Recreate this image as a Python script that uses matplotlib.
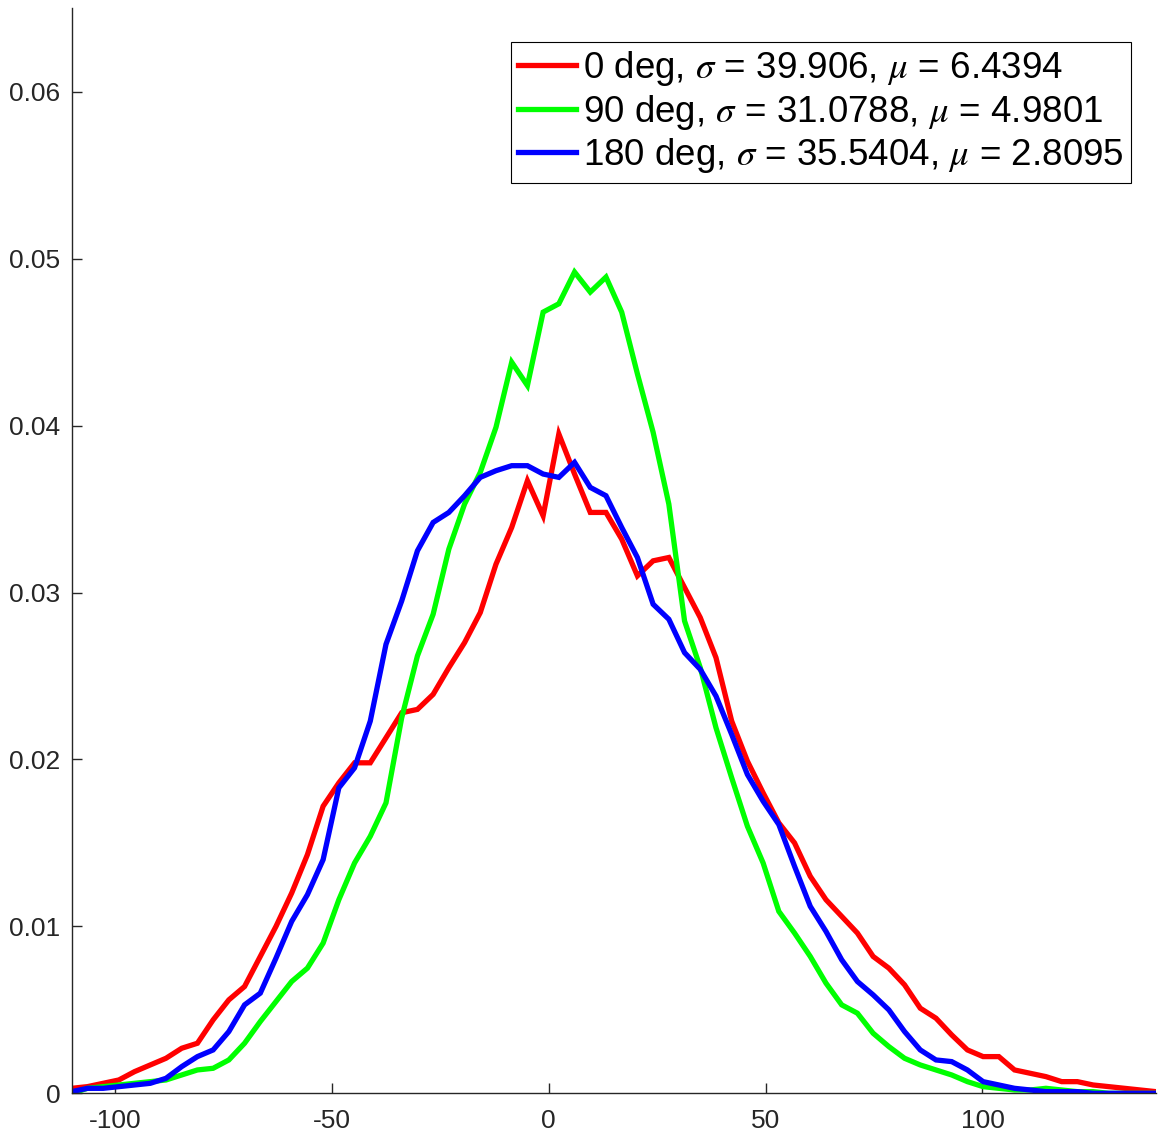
import numpy as np
import matplotlib
matplotlib.use("Agg")
import matplotlib.pyplot as plt

plt.rcParams['font.family'] = ['Liberation Sans', 'DejaVu Sans']
plt.rcParams['mathtext.fontset'] = 'stix'

# bin centres (70 bins spanning -110 .. 140)
x = np.linspace(-110, 140, 70)

deg0 = [0.0003, 0.0004, 0.0006, 0.0008, 0.0013, 0.0017, 0.0021, 0.0027, 0.0030, 0.0044,
        0.0056, 0.0064, 0.0082, 0.0100, 0.0120, 0.0143, 0.0172, 0.0186, 0.0198, 0.0198,
        0.0213, 0.0228, 0.0230, 0.0239, 0.0255, 0.0270, 0.0288, 0.0317, 0.0339, 0.0367,
        0.0346, 0.0395, 0.0371, 0.0348, 0.0348, 0.0332, 0.0310, 0.0319, 0.0321, 0.0303,
        0.0285, 0.0261, 0.0223, 0.0199, 0.0180, 0.0162, 0.0150, 0.0130, 0.0116, 0.0106,
        0.0096, 0.0082, 0.0075, 0.0065, 0.0051, 0.0045, 0.0035, 0.0026, 0.0022, 0.0022,
        0.0014, 0.0012, 0.0010, 0.0007, 0.0007, 0.0005, 0.0004, 0.0003, 0.0002, 0.0001]

deg90 = [0.0000, 0.0003, 0.0004, 0.0005, 0.0006, 0.0007, 0.0008, 0.0011, 0.0014, 0.0015,
         0.0020, 0.0030, 0.0043, 0.0055, 0.0067, 0.0075, 0.0090, 0.0116, 0.0138, 0.0154,
         0.0174, 0.0225, 0.0262, 0.0287, 0.0326, 0.0353, 0.0372, 0.0399, 0.0438, 0.0424,
         0.0468, 0.0473, 0.0492, 0.0480, 0.0489, 0.0468, 0.0431, 0.0396, 0.0353, 0.0283,
         0.0255, 0.0219, 0.0189, 0.0160, 0.0138, 0.0109, 0.0096, 0.0082, 0.0066, 0.0053,
         0.0048, 0.0036, 0.0028, 0.0021, 0.0017, 0.0014, 0.0011, 0.0007, 0.0004, 0.0003,
         0.0002, 0.0002, 0.0003, 0.0002, 0.0001, 0.0001, 0.0000, 0.0000, 0.0000, 0.0000]

deg180 = [0.0001, 0.0003, 0.0003, 0.0004, 0.0005, 0.0006, 0.0009, 0.0016, 0.0022, 0.0026,
          0.0037, 0.0053, 0.0060, 0.0081, 0.0103, 0.0119, 0.0140, 0.0183, 0.0195, 0.0223,
          0.0269, 0.0295, 0.0325, 0.0342, 0.0348, 0.0358, 0.0369, 0.0373, 0.0376, 0.0376,
          0.0371, 0.0369, 0.0378, 0.0363, 0.0358, 0.0339, 0.0321, 0.0293, 0.0284, 0.0264,
          0.0254, 0.0238, 0.0215, 0.0191, 0.0175, 0.0161, 0.0136, 0.0112, 0.0097, 0.0080,
          0.0067, 0.0059, 0.0050, 0.0037, 0.0026, 0.0020, 0.0019, 0.0014, 0.0007, 0.0005,
          0.0003, 0.0002, 0.0001, 0.0001, 0.0001, 0.0000, 0.0000, 0.0000, 0.0000, 0.0000]

labels = [r'0 deg, $\sigma$ = 39.906, $\mu$ = 6.4394',
          r'90 deg, $\sigma$ = 31.0788, $\mu$ = 4.9801',
          r'180 deg, $\sigma$ = 35.5404, $\mu$ = 2.8095']
colors = ['#ff0000', '#00ff00', '#0000ff']

xticks = [-100, -50, 0, 50, 100]
xticklabels = ['-100', '-50', '0', '50', '100']
yticks = [0, 0.01, 0.02, 0.03, 0.04, 0.05, 0.06]
yticklabels = ['0', '0.01', '0.02', '0.03', '0.04', '0.05', '0.06']

fig = plt.figure(figsize=(11.66, 11.39), dpi=100)
ax = fig.add_axes([0.0615, 0.0401, 0.9299, 0.9526])

for ys, c, lab in zip([deg0, deg90, deg180], colors, labels):
    ax.plot(x, ys, color=c, lw=3.8, label=lab, solid_joinstyle='miter')

ax.set_xlim(-110, 140)
ax.set_ylim(0, 0.065)
ax.set_xticks(xticks)
ax.set_xticklabels(xticklabels)
ax.set_yticks(yticks)
ax.set_yticklabels(yticklabels)

axc = '#262626'
for s in ['top', 'right']:
    ax.spines[s].set_visible(False)
for s in ['left', 'bottom']:
    ax.spines[s].set_color(axc)
    ax.spines[s].set_linewidth(1.0)
ax.tick_params(direction='in', length=7, width=1.0, color=axc,
               labelcolor=axc, labelsize=19)
ax.tick_params(axis='y', pad=8)
ax.tick_params(axis='x', pad=11)

leg = ax.legend(loc='upper right', bbox_to_anchor=(0.977, 0.969),
                borderaxespad=0, fontsize=26.5, frameon=True, fancybox=False,
                framealpha=1, edgecolor='black', handlelength=1.55,
                handletextpad=0.2, borderpad=0.2, labelspacing=0.12)
leg.get_frame().set_linewidth(0.8)

fig.savefig('out.png', dpi=100)
